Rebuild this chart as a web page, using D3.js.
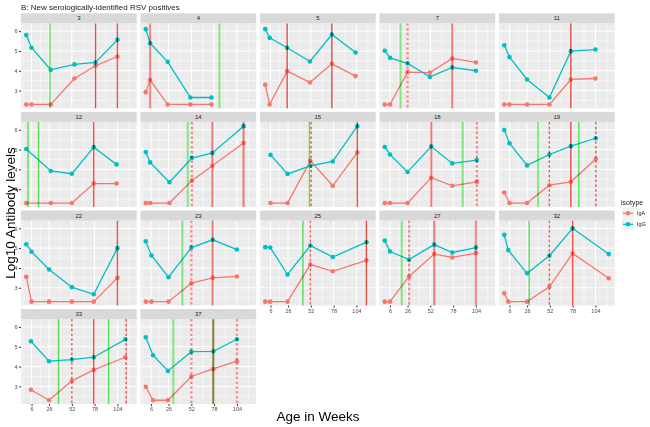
<!DOCTYPE html>
<html>
<head>
<meta charset="utf-8">
<script src="https://cdn.jsdelivr.net/npm/d3@7"></script>
<style>
  body { margin: 0; background: #fff; }
  text { font-family: "Liberation Sans", Arial, sans-serif; }
  .vline { mix-blend-mode: multiply; }
</style>
</head>
<body>
<svg id="chart" width="650" height="427"></svg>
<script>
// subjects, one facet each
const subjectIds = ["3", "4", "5", "7", "11", "12", "14", "15", "18", "19", "22", "23", "25", "27", "32", "33", "37"];

// age in weeks at each sample
const ageWeeks = [
  [0, 6, 28, 55, 79, 104],
  [0, 5, 25, 51, 75],
  [0, 5, 25, 51, 76, 103],
  [0, 6, 26, 51.5, 77, 104],
  [0, 6, 26, 51.5, 76, 104],
  [0, 28, 52, 77, 103],
  [0, 5, 27, 52.6, 76, 111.6],
  [6, 25.4, 51.5, 77, 105],
  [0, 6, 26, 53, 77, 105],
  [0, 6, 26, 51.5, 76, 104.4],
  [0, 6, 26, 52, 77, 104],
  [0, 6.5, 26, 52, 76.4, 104],
  [0, 5.7, 25.4, 51.5, 77, 115.4],
  [0, 6, 27.7, 56.4, 77, 104],
  [0, 4.6, 26, 51.5, 78, 119.2],
  [5.3, 26, 52, 77, 113],
  [0, 8.3, 25.3, 52, 77, 104]
];

// log10 IgA levels
const igA = [
  [2.3, 2.3, 2.3, 3.61, 4.25, 4.72],
  [2.92, 3.53, 2.3, 2.3, 2.3],
  [3.29, 2.3, 3.98, 3.41, 4.35, 3.73],
  [2.3, 2.3, 3.93, 3.91, 4.62, 4.42],
  [2.3, 2.3, 2.3, 2.3, 3.56, 3.61],
  [2.3, 2.3, 2.3, 3.28, 3.28],
  [2.3, 2.3, 2.3, 3.43, 4.18, 5.33],
  [2.3, 2.3, 4.43, 3.17, 4.85],
  [2.3, 2.3, 2.3, 3.58, 3.17, 3.37],
  [2.83, 2.3, 2.3, 3.2, 3.37, 4.52],
  [3.55, 2.3, 2.3, 2.3, 2.3, 3.5],
  [2.3, 2.3, 2.3, 3.23, 3.5, 3.57],
  [2.3, 2.3, 2.3, 4.17, 3.83, 4.38],
  [2.3, 2.3, 3.57, 4.7, 4.53, 4.75],
  [2.72, 2.3, 2.3, 3.05, 4.73, 3.48],
  [2.83, 2.3, 3.28, 3.83, 4.47],
  [2.98, 2.3, 2.3, 3.5, 3.88, 4.27]
];

// log10 IgG levels
const igG = [
  [5.8, 5.16, 4.05, 4.32, 4.42, 5.56],
  [6.1, 5.39, 4.45, 2.65, 2.65],
  [6.1, 5.66, 5.16, 4.47, 5.83, 4.92],
  [5.01, 4.65, 4.37, 3.69, 4.17, 4.0],
  [5.29, 4.69, 3.56, 2.65, 4.99, 5.07],
  [5.03, 3.92, 3.78, 5.12, 4.25],
  [4.87, 4.35, 3.35, 4.57, 4.83, 6.18],
  [4.73, 3.77, 4.18, 4.4, 6.18],
  [5.13, 4.75, 3.87, 5.15, 4.3, 4.47],
  [5.98, 5.32, 4.2, 4.75, 5.17, 5.57],
  [5.2, 4.82, 3.92, 3.03, 2.67, 5.0],
  [5.35, 4.63, 3.53, 5.03, 5.42, 4.93],
  [5.05, 5.03, 3.67, 5.13, 4.55, 5.3],
  [5.38, 4.83, 4.42, 5.18, 4.78, 5.03],
  [5.67, 4.9, 3.73, 4.62, 6.0, 4.7],
  [5.28, 4.27, 4.35, 4.47, 5.37],
  [5.48, 4.57, 3.78, 4.75, 4.77, 5.38]
];

// event markers (weeks)
const greenLines = [[27], [84], [], [18], [], [2, 14], [48], [50.4], [89], [38.6, 85], [], [41.7], [43], [19.4], [28.4], [36.8, 93.9], [31.4, 77]];
const redLines = [[79, 104], [5], [25, 76], [77], [76], [77], [76, 111.6], [105], [53], [76], [104], [76.4], [115.4], [56.4, 104], [78], [77], [77]];
const redDashedLines = [[], [], [], [26], [], [], [52.6], [52.2], [105], [51.5, 104.4], [], [52], [51.5], [27.7], [51.5], [52, 114], [52, 104]];

const xTicks = [6, 26, 52, 78, 104];
const xMinor = [-4, 16, 39, 65, 91, 117];
const yTicks = [3, 4, 5, 6];
const yMinor = [2.5, 3.5, 4.5, 5.5];
const isotypes = ["IgA", "IgG"];

const colIgA = "#F8766D", colIgG = "#00BFC4";
const nCols = 5;
const panelW = 115.7, panelH = 85, stripH = 10;
const left0 = 21, colStep = 119.5, top0 = 13.3, rowStep = 98.6;

const svg = d3.select("#chart");

const x = d3.scaleLinear().domain([-6, 126]).range([0, panelW]);
const y = d3.scaleLinear().domain([2.105, 6.395]).range([panelH, 0]);
const color = d3.scaleOrdinal().domain(isotypes).range([colIgA, colIgG]);

// title
svg.append("text")
  .attr("x", 21).attr("y", 10)
  .attr("font-size", 8).attr("fill", "#1a1a1a")
  .text("B: New serologically-identified RSV positives");

const line = d3.line().x(d => x(d[0])).y(d => y(d[1]));

subjectIds.forEach((id, i) => {
  const col = i % nCols, row = Math.floor(i / nCols);
  const px = left0 + col * colStep;
  const sy = top0 + row * rowStep;
  const g = svg.append("g").attr("transform", `translate(${px},${sy + stripH})`);

  // strip
  svg.append("rect").attr("x", px).attr("y", sy).attr("width", panelW).attr("height", stripH).attr("fill", "#D9D9D9");
  svg.append("text").attr("x", px + panelW / 2).attr("y", sy + stripH / 2 + 2)
    .attr("text-anchor", "middle").attr("font-size", 6).attr("fill", "#1a1a1a").text(id);

  // background & grid
  g.append("rect").attr("width", panelW).attr("height", panelH).attr("fill", "#EBEBEB");
  g.selectAll(".xmin").data(xMinor).enter().append("line")
    .attr("x1", d => x(d)).attr("x2", d => x(d)).attr("y1", 0).attr("y2", panelH)
    .attr("stroke", "#fff").attr("stroke-width", 0.5);
  g.selectAll(".ymin").data(yMinor).enter().append("line")
    .attr("y1", d => y(d)).attr("y2", d => y(d)).attr("x1", 0).attr("x2", panelW)
    .attr("stroke", "#fff").attr("stroke-width", 0.5);
  g.selectAll(".xmaj").data(xTicks).enter().append("line")
    .attr("x1", d => x(d)).attr("x2", d => x(d)).attr("y1", 0).attr("y2", panelH)
    .attr("stroke", "#fff").attr("stroke-width", 1);
  g.selectAll(".ymaj").data(yTicks).enter().append("line")
    .attr("y1", d => y(d)).attr("y2", d => y(d)).attr("x1", 0).attr("x2", panelW)
    .attr("stroke", "#fff").attr("stroke-width", 1);

  // series
  const series = [
    { key: "IgA", pts: ageWeeks[i].map((w, k) => [w, igA[i][k]]) },
    { key: "IgG", pts: ageWeeks[i].map((w, k) => [w, igG[i][k]]) }
  ];
  series.forEach(s => {
    g.append("path").attr("d", line(s.pts)).attr("fill", "none")
      .attr("stroke", color(s.key)).attr("stroke-width", 1.3);
    g.selectAll(null).data(s.pts).enter().append("circle")
      .attr("cx", d => x(d[0])).attr("cy", d => y(d[1])).attr("r", 2.3)
      .attr("fill", color(s.key));
  });

  // vertical event lines
  const vl = (data, stroke, dash) => g.selectAll(null).data(data).enter().append("line")
    .attr("class", "vline")
    .attr("x1", d => x(d)).attr("x2", d => x(d)).attr("y1", 0).attr("y2", panelH)
    .attr("stroke", stroke).attr("stroke-width", 1.4)
    .attr("stroke-dasharray", dash);
  vl(greenLines[i], "#5CF55C", null);
  vl(redLines[i], "#FA5048", null);
  vl(redDashedLines[i], "#FA5048", "2.6,2.2");

  // axes
  if (col === 0) {
    const ay = g.append("g").call(d3.axisLeft(y).tickValues(yTicks).tickFormat(d3.format("d")).tickSize(2).tickPadding(1.5));
    ay.select(".domain").remove();
    ay.selectAll("line").attr("stroke", "#333");
    ay.selectAll("text").attr("font-size", 5.5).attr("fill", "#4D4D4D").attr("font-family", null);
  }
  const below = i + nCols;
  if (below >= subjectIds.length) {
    const ax = g.append("g").attr("transform", `translate(0,${panelH})`)
      .call(d3.axisBottom(x).tickValues(xTicks).tickSize(2).tickPadding(1.5));
    ax.select(".domain").remove();
    ax.selectAll("line").attr("stroke", "#333");
    ax.selectAll("text").attr("font-size", 5.5).attr("fill", "#4D4D4D").attr("font-family", null);
  }
});

// axis titles
svg.append("text")
  .attr("transform", "translate(15,213) rotate(-90)")
  .attr("text-anchor", "middle").attr("font-size", 13.5).attr("fill", "#000")
  .text("Log10 Antibody levels");
svg.append("text")
  .attr("x", 318).attr("y", 421)
  .attr("text-anchor", "middle").attr("font-size", 13.5).attr("fill", "#000")
  .text("Age in Weeks");

// legend
const lg = svg.append("g").attr("transform", "translate(620,0)");
lg.append("text").attr("x", 1).attr("y", 205).attr("font-size", 7).attr("fill", "#1a1a1a").text("isotype");
isotypes.forEach((k, j) => {
  const cy = 213.3 + j * 11;
  lg.append("rect").attr("x", 2).attr("y", cy - 5.5).attr("width", 12).attr("height", 11).attr("fill", "#F2F2F2");
  lg.append("line").attr("x1", 3).attr("x2", 13).attr("y1", cy).attr("y2", cy)
    .attr("stroke", color(k)).attr("stroke-width", 1.3);
  lg.append("circle").attr("cx", 8).attr("cy", cy).attr("r", 2.3).attr("fill", color(k));
  lg.append("text").attr("x", 17).attr("y", cy + 2).attr("font-size", 5.5).attr("fill", "#1a1a1a").text(k);
});
</script>
</body>
</html>
